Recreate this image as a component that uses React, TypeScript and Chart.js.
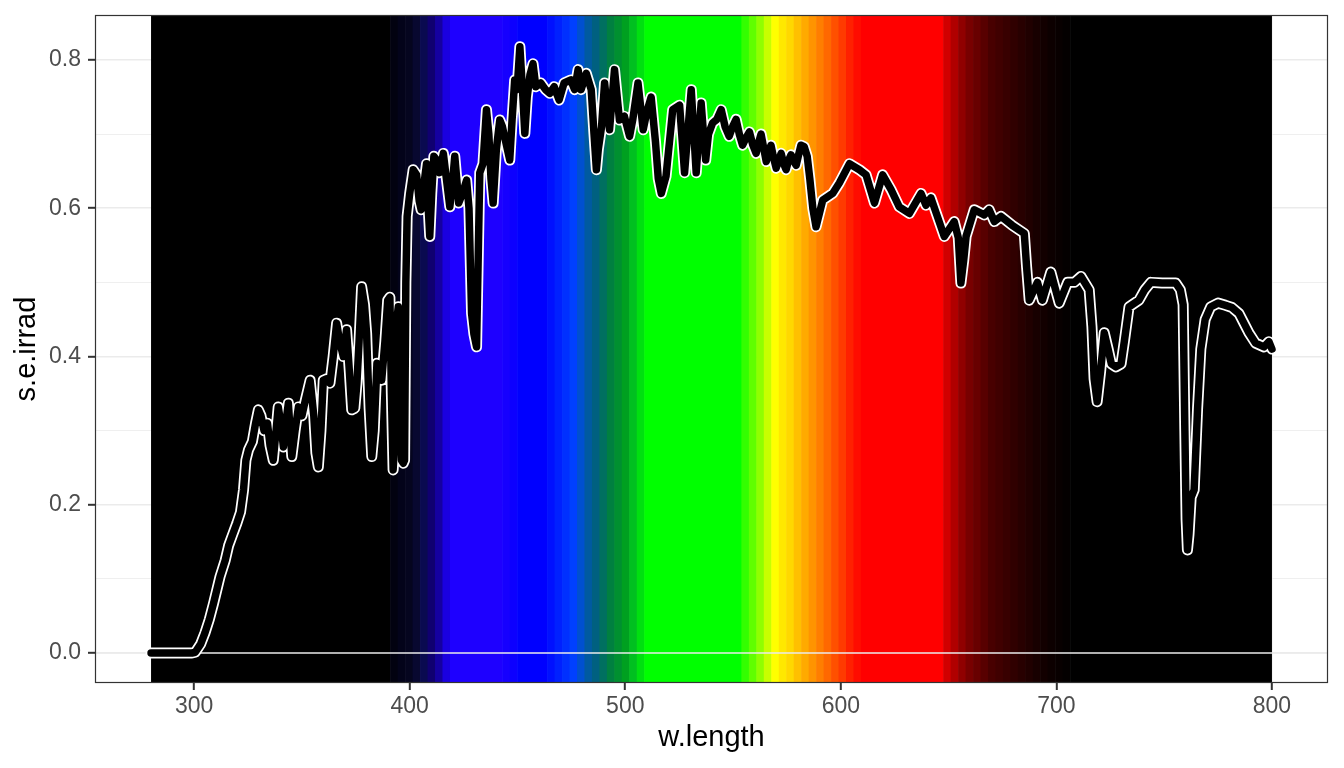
import React, { useEffect, useRef } from "react";
import { Chart, registerables } from "chart.js";

Chart.register(...registerables);

// ---- data ----
const wl: number[] = [
  280, 290, 299, 300.5, 303, 305, 307, 309, 312, 314.4,
  316, 317.5, 319.8, 321.5, 322.9, 324, 325.2, 327, 328.5, 329.8,
  331, 332.4, 334, 335.2, 336.7, 338, 339, 340.2, 341.4, 342.5,
  343.7, 344.5, 345.3, 346.8, 348.4, 350, 351.5, 353.8, 355.5, 356.5,
  357.6, 358.8, 359.9, 361.5, 363, 364.5, 366.1, 367.5, 369.2, 370.7,
  372, 373.1, 374.5, 375.5, 376.5, 377.7, 379, 380, 381.2, 382.4,
  383.5, 384.8, 386, 387, 388.5, 389.8, 390.8, 391.5, 392.3, 393.3,
  394, 394.7, 395.5, 396.2, 397, 397.6, 398.2, 398.8, 400, 401.6,
  403.2, 404.4, 405.3, 406.5, 407.8, 408.6, 409.3, 410.2, 411.2, 412.5,
  413.8, 415.6, 417, 418.6, 419.7, 420.9, 421.8, 422.7, 424.5, 426.4,
  427.5, 428.7, 429.8, 431, 432.5, 434, 435.6, 436.7, 437.7, 438.7,
  440.2, 441.8, 443, 444.5, 446.4, 447.5, 448.7, 449.8, 451.1, 452.3,
  453.4, 454.5, 455.8, 457.2, 458.5, 460.8, 463, 465, 467, 469.3,
  471.6, 474.7, 476.5, 478.1, 479.5, 481.9, 484.2, 485.5, 486.6, 487.5,
  489, 490.4, 492.7, 495, 497.3, 499.6, 502, 503.5, 505.9, 508.3,
  510, 512, 514, 515.3, 516.7, 518.9, 522, 525.2, 527.5, 530.6,
  532.9, 535.2, 536.3, 537.3, 538.6, 540.5, 542.5, 544.5, 546.3, 548.2,
  549.8, 551.4, 552.9, 554.4, 556, 557.6, 559.2, 560.7, 562, 563,
  564.3, 565.4, 566.5, 567.6, 568.8, 570, 571.2, 572.3, 573.5, 574.6,
  575.8, 576.9, 578.1, 579.3, 580.4, 581.5, 583, 584.4, 585.6, 587,
  588.5, 591.6,
  596.2, 599.3, 604, 608.6, 611.7, 615.6, 619.4, 623.3, 627.1, 631.8,
  637.2, 639.5, 641.8, 648, 652.6, 654.5, 655.7, 657, 658.1, 661.9,
  666.5, 668.8, 671.2, 674.3, 679.5, 685.1, 686.2, 687.4, 691.2, 693.5,
  697.4, 701.3, 705.2, 708.3, 711.4, 715.2, 716.5, 717.5, 718.9, 720.5,
  722.2, 724, 725.5, 727.6, 730, 731.5, 733.7, 738.3, 741, 743.8,
  749, 755.4, 757.5, 758.8, 759.6, 760.2, 760.8, 761.5, 762.5, 763.9,
  765.5, 767, 769, 771.6, 775, 778.5, 781.5, 784.7, 787, 789.3,
  792.4, 796.3, 798.6, 800,
];

const irrad: number[] = [
  0, 0, 0, 0.001, 0.012, 0.027, 0.045, 0.067, 0.103, 0.125,
  0.145, 0.157, 0.175, 0.19, 0.22, 0.26, 0.274, 0.285, 0.31, 0.328,
  0.32, 0.30, 0.31, 0.28, 0.26, 0.30, 0.332, 0.31, 0.278, 0.31,
  0.337, 0.30, 0.265, 0.30, 0.332, 0.32, 0.34, 0.368, 0.32, 0.27,
  0.251, 0.30, 0.368, 0.37, 0.364, 0.40, 0.445, 0.42, 0.40, 0.436,
  0.38, 0.328, 0.33, 0.364, 0.42, 0.494, 0.47, 0.431, 0.33, 0.265,
  0.30, 0.391, 0.38, 0.368, 0.42, 0.476, 0.48, 0.35, 0.247, 0.30,
  0.45, 0.467, 0.40, 0.26, 0.256, 0.26, 0.50, 0.589, 0.62, 0.652,
  0.645, 0.61, 0.598, 0.63, 0.66, 0.60, 0.562, 0.62, 0.67, 0.665,
  0.648, 0.674, 0.64, 0.602, 0.63, 0.67, 0.64, 0.607, 0.62, 0.638,
  0.60, 0.458, 0.43, 0.413, 0.648, 0.66, 0.733, 0.70, 0.64, 0.607,
  0.68, 0.719, 0.71, 0.69, 0.665, 0.72, 0.773, 0.76, 0.818, 0.76,
  0.701, 0.75, 0.78, 0.795, 0.764, 0.769, 0.76, 0.755, 0.764, 0.746,
  0.769, 0.773, 0.76, 0.787, 0.76, 0.782, 0.76, 0.70, 0.652, 0.68,
  0.71, 0.769, 0.706, 0.787, 0.719, 0.724, 0.697, 0.72, 0.769, 0.706,
  0.73, 0.75, 0.69, 0.64, 0.62, 0.643, 0.733, 0.739, 0.648, 0.76,
  0.648, 0.742, 0.70, 0.665, 0.70, 0.715, 0.72, 0.733, 0.71, 0.697,
  0.71, 0.72, 0.70, 0.685, 0.695, 0.703, 0.685, 0.674, 0.69, 0.70,
  0.68, 0.663, 0.675, 0.685, 0.668, 0.654, 0.665, 0.674, 0.66, 0.652,
  0.665, 0.672, 0.664, 0.658, 0.672, 0.685, 0.683, 0.67, 0.64, 0.60,
  0.575, 0.611,
  0.62, 0.634, 0.66, 0.652, 0.645, 0.607, 0.645, 0.625, 0.602, 0.593,
  0.62, 0.604, 0.614, 0.562, 0.582, 0.56, 0.499, 0.53, 0.562, 0.598,
  0.591, 0.598, 0.582, 0.589, 0.577, 0.566, 0.52, 0.476, 0.50, 0.476,
  0.514, 0.472, 0.50, 0.50, 0.508, 0.49, 0.44, 0.37, 0.339, 0.38,
  0.432, 0.41, 0.39, 0.386, 0.39, 0.42, 0.467, 0.476, 0.49, 0.50,
  0.499, 0.499, 0.49, 0.47, 0.30, 0.18, 0.139, 0.16, 0.21, 0.22,
  0.33, 0.41, 0.45, 0.467, 0.472, 0.469, 0.466, 0.458, 0.445, 0.432,
  0.418, 0.413, 0.42, 0.41,
];

const xTicks: number[] = [300, 400, 500, 600, 700, 800];
const yMajorTicks: number[] = [0, 0.2, 0.4, 0.6, 0.8];
const yMinorTicks: number[] = [0.1, 0.3, 0.5, 0.7];

// colour strip: 150 equal bands from 280 to 800 nm, as [band count, colour] runs
const bandRange: number[] = [280, 800];
const bandTotal = 150;
const bandRuns: [number, string][] = [
  [32, "#000000"],
  [1, "#020210"], [1, "#03031a"], [1, "#05051f"], [1, "#080830"],
  [1, "#0a0a50"], [1, "#100070"], [1, "#1500a0"], [1, "#1a00e0"],
  [7, "#1e00ff"],
  [1, "#1600ff"], [1, "#0c00ff"],
  [4, "#0000ff"],
  [1, "#0010ff"], [1, "#0020ff"], [1, "#0030ff"], [1, "#0040ff"],
  [1, "#0050d0"], [1, "#005aa0"], [1, "#006080"], [1, "#007060"],
  [1, "#008040"], [1, "#009030"], [1, "#00a020"], [1, "#00c020"], [1, "#00e010"],
  [13, "#00ff00"],
  [1, "#33ff00"], [1, "#60ff00"], [1, "#90ff00"], [1, "#c8ff00"],
  [1, "#ffff00"], [1, "#ffe800"], [1, "#ffd800"], [1, "#ffc000"],
  [1, "#ffaa00"], [1, "#ff9400"], [1, "#ff7e00"], [1, "#ff6800"],
  [1, "#ff5000"], [1, "#ff3a00"], [1, "#ff2000"], [1, "#ff0c00"],
  [11, "#ff0000"],
  [1, "#d00000"], [1, "#b00000"], [1, "#900000"], [1, "#780000"],
  [1, "#680000"], [1, "#580000"], [1, "#480000"], [1, "#400000"],
  [1, "#380000"], [1, "#300000"], [1, "#280000"], [1, "#200000"],
  [1, "#180000"], [1, "#120000"], [1, "#0c0000"], [1, "#080000"], [1, "#040000"],
  [27, "#000000"],
];

const isMajorY = (v: number) => yMajorTicks.some((m) => Math.abs(m - v) < 1e-9);

const FONT = "'Liberation Sans', Arial, Helvetica, sans-serif";

const stripPlugin = {
  id: "spectrumStrip",
  beforeDatasetsDraw(chart: any) {
    const { ctx, chartArea, scales } = chart;
    const x = scales.x;
    const y = scales.y;
    const step = (bandRange[1] - bandRange[0]) / bandTotal;
    ctx.save();
    let i = 0;
    for (const [n, color] of bandRuns) {
      const x0 = x.getPixelForValue(bandRange[0] + i * step);
      const x1 = x.getPixelForValue(bandRange[0] + (i + n) * step);
      const last = i + n >= bandTotal;
      ctx.fillStyle = color;
      ctx.fillRect(x0, chartArea.top, x1 - x0 + (last ? 0 : 0.6), chartArea.bottom - chartArea.top);
      i += n;
    }
    const y0 = y.getPixelForValue(0);
    ctx.strokeStyle = "#EBEBEB";
    ctx.lineWidth = 1.6;
    ctx.beginPath();
    ctx.moveTo(chartArea.left, y0);
    ctx.lineTo(chartArea.right, y0);
    ctx.stroke();
    ctx.restore();
  },
  afterDraw(chart: any) {
    const { ctx, chartArea } = chart;
    ctx.save();
    ctx.strokeStyle = "#333333";
    ctx.lineWidth = 1.2;
    ctx.strokeRect(
      chartArea.left + 0.5,
      chartArea.top + 0.5,
      chartArea.right - chartArea.left - 1,
      chartArea.bottom - chartArea.top - 1
    );
    ctx.restore();
  },
};

export default function App() {
  const canvasRef = useRef<HTMLCanvasElement | null>(null);

  useEffect(() => {
    if (!canvasRef.current) return;
    const points = wl.map((w, i) => ({ x: w, y: irrad[i] }));
    const chart = new Chart(canvasRef.current, {
      type: "line",
      data: {
        datasets: [
          {
            data: points,
            borderColor: "#000000",
            borderWidth: 7.5,
            pointRadius: 0,
            tension: 0,
            borderJoinStyle: "round",
            borderCapStyle: "round",
            order: 0,
          },
          {
            data: points,
            borderColor: "#ffffff",
            borderWidth: 11,
            pointRadius: 0,
            tension: 0,
            borderJoinStyle: "round",
            borderCapStyle: "round",
            order: 1,
          },
        ],
      },
      options: {
        responsive: false,
        maintainAspectRatio: false,
        animation: false,
        events: [],
        layout: { padding: { top: 15, right: 16, left: 0, bottom: 0 } },
        plugins: {
          legend: { display: false },
          tooltip: { enabled: false },
          title: { display: false },
        },
        scales: {
          x: {
            type: "linear",
            min: 254,
            max: 826,
            bounds: "data",
            afterBuildTicks: (s: any) => {
              s.ticks = xTicks.map((v) => ({ value: v }));
            },
            afterFit: (s: any) => {
              s.height = 85;
              s.paddingLeft = 0;
              s.paddingRight = 0;
            },
            border: { display: false },
            grid: {
              color: "#EBEBEB",
              lineWidth: 1.6,
              drawTicks: true,
              tickLength: 7,
              tickColor: "#333333",
              tickWidth: 2,
            },
            ticks: {
              autoSkip: false,
              maxRotation: 0,
              padding: 3,
              color: "#4D4D4D",
              font: { family: FONT, size: 23 },
              callback: (v: any) => String(v),
            },
            title: {
              display: true,
              text: "w.length",
              color: "#000000",
              font: { family: FONT, size: 29 },
              padding: { top: 0, bottom: 13 },
            },
          },
          y: {
            type: "linear",
            min: -0.0405,
            max: 0.8607,
            bounds: "data",
            afterBuildTicks: (s: any) => {
              s.ticks = [...yMajorTicks, ...yMinorTicks]
                .sort((a, b) => a - b)
                .map((v) => ({ value: v }));
            },
            afterFit: (s: any) => {
              s.width = 95;
              s.paddingTop = 0;
              s.paddingBottom = 0;
            },
            border: { display: false },
            grid: {
              color: "#EBEBEB",
              lineWidth: (c: any) => (c.tick && isMajorY(c.tick.value) ? 1.6 : 0.8),
              drawTicks: true,
              tickLength: 7,
              tickColor: (c: any) =>
                c.tick && isMajorY(c.tick.value) ? "#333333" : "rgba(0,0,0,0)",
              tickWidth: 2,
            },
            ticks: {
              autoSkip: false,
              padding: 7,
              color: "#4D4D4D",
              font: { family: FONT, size: 23 },
              callback: (v: any) => (isMajorY(Number(v)) ? Number(v).toFixed(1) : ""),
            },
            title: {
              display: true,
              text: "s.e.irrad",
              color: "#000000",
              font: { family: FONT, size: 29 },
              padding: { top: 10, bottom: 0 },
            },
          },
        },
      },
      plugins: [stripPlugin],
    } as any);
    return () => {
      chart.destroy();
    };
  }, []);

  return (
    <div
      style={{
        position: "fixed",
        left: 0,
        top: 0,
        width: 1344,
        height: 768,
        background: "#ffffff",
      }}
    >
      <canvas ref={canvasRef} width={1344} height={768} style={{ display: "block" }} />
    </div>
  );
}
